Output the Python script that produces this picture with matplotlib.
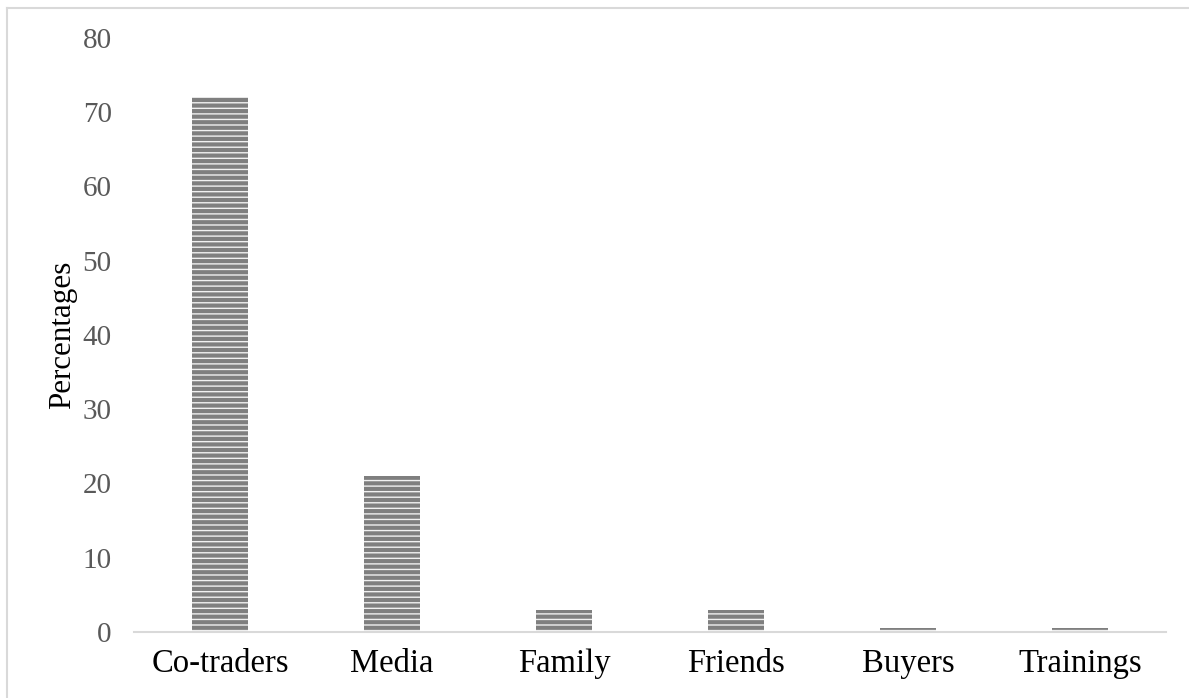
import numpy as np
import matplotlib
matplotlib.use("Agg")
import matplotlib.pyplot as plt
from matplotlib.lines import Line2D

categories = ["Co-traders", "Media", "Family", "Friends", "Buyers", "Trainings"]
percentages = [72, 21, 3, 3, 0.5, 0.5]
y_ticks = [0, 10, 20, 30, 40, 50, 60, 70, 80]

plt.rcParams['font.family'] = ['Liberation Serif', 'DejaVu Serif']
plt.rcParams['hatch.linewidth'] = 1.0

fig = plt.figure(figsize=(11.89, 6.98), dpi=100)
ax = fig.add_axes([0.1127, 0.0946, 0.868, 0.851])

x = np.arange(len(categories))
bars = ax.bar(x, percentages, width=0.33, color="#7f7f7f",
              edgecolor="#f0f0f0", linewidth=0, hatch="---")

ax.set_xlim(-0.5, len(categories) - 0.5)
ax.set_ylim(0, 80)
ax.set_yticks(y_ticks)
ax.set_xticks(x)
ax.set_xticklabels(categories, fontsize=23.5, color="black")
ax.tick_params(axis="y", labelsize=21, labelcolor="#595959", length=0, pad=16)
ax.tick_params(axis="x", length=0, pad=12)
ax.set_ylabel("Percentages", fontsize=22.3, labelpad=4)

for side in ["top", "right", "left"]:
    ax.spines[side].set_visible(False)
ax.spines["bottom"].set_color("#d9d9d9")
ax.spines["bottom"].set_linewidth(1.5)

# light frame around the chart
fig.add_artist(Line2D([6.5 / 1189, 6.5 / 1189], [0, 1 - 8 / 698],
                      transform=fig.transFigure, color="#d9d9d9", lw=1.5))
fig.add_artist(Line2D([6.5 / 1189, 1], [1 - 8 / 698, 1 - 8 / 698],
                      transform=fig.transFigure, color="#d9d9d9", lw=1.5))

fig.savefig("out.png", dpi=100)
